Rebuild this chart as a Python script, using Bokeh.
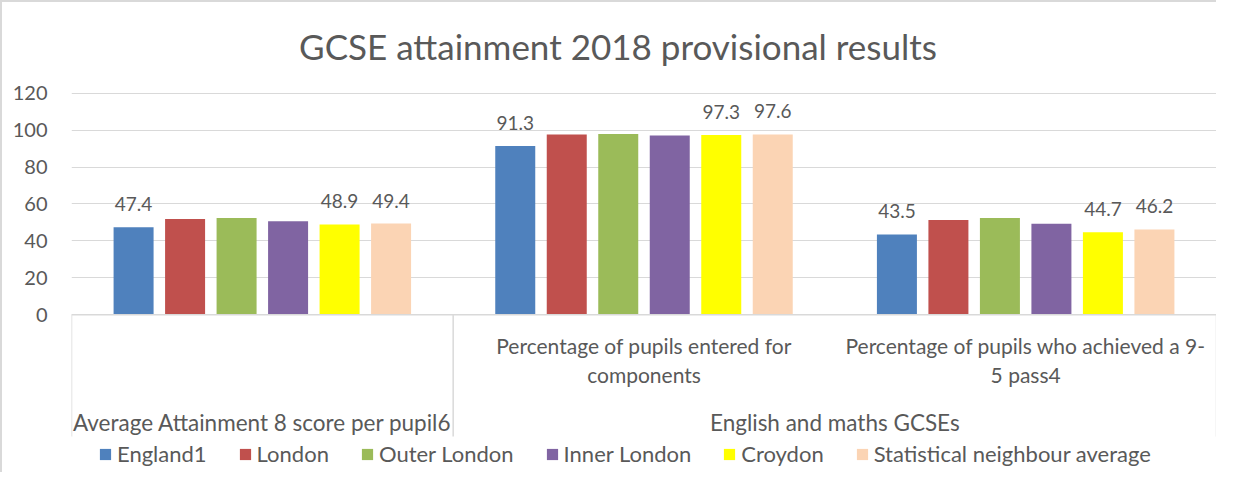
from bokeh.plotting import figure
from bokeh.models import Range1d, FixedTicker, Legend, LegendItem
from bokeh.core.properties import value
from bokeh.embed import file_html
from bokeh.resources import INLINE

# ---------------- data ----------------
title_text = "GCSE attainment 2018  provisional results"
sub_labels = ["", "Percentage of pupils entered for\ncomponents",
              "Percentage of pupils who achieved a 9-\n5 pass4"]
group_labels = ["Average Attainment 8 score per pupil6", "English and maths GCSEs"]
group_starts = [0, 1]
group_ends = [1, 3]
series = ["England1", "London", "Outer London", "Inner London", "Croydon",
          "Statistical neighbour average"]
england = [47.4, 91.3, 43.5]
london = [51.9, 97.6, 51.3]
outer_london = [52.4, 97.8, 52.4]
inner_london = [50.7, 97.1, 49.3]
croydon = [48.9, 97.3, 44.7]
stat_neighbour = [49.4, 97.6, 46.2]
values = [england, london, outer_london, inner_london, croydon, stat_neighbour]
show_labels = [True, False, False, False, True, True]
colors = ["#4F81BD", "#C0504D", "#9BBB59", "#8064A2", "#FFFF00", "#FBD4B4"]
y_ticks = [0, 20, 40, 60, 80, 100, 120]

# ---------------- layout ----------------
W, H = 1216, 472
LEFT, RIGHT = 69, 2
PX = 1.8475          # pixels per value unit
Y0 = 312.3           # canvas y of value 0
UX = (W - LEFT - RIGHT) / 3.0
FONT = value("Lato")
TXT = "#595959"
GRID = "#d9d9d9"


def v(cy):
    return (Y0 - cy) / PX


def u(cx):
    return (cx - LEFT) / UX


p = figure(width=W, height=H, x_range=Range1d(0, 3), y_range=Range1d(v(H), v(0)),
           output_backend="svg", toolbar_location=None, x_axis_location=None,
           min_border_left=LEFT, min_border_right=RIGHT, min_border_top=0, min_border_bottom=0)
p.styles = {"border-top": "2px solid #d9d9d9", "border-left": "2px solid #d9d9d9"}
p.outline_line_color = None
p.background_fill_color = "white"
p.border_fill_color = "white"

p.yaxis.ticker = FixedTicker(ticks=y_ticks)
p.yaxis.axis_line_color = None
p.yaxis.major_tick_line_color = None
p.yaxis.minor_tick_line_color = None
p.yaxis.major_tick_out = 0
p.yaxis.major_label_standoff = 24
p.yaxis.major_label_text_font = "Lato"
p.yaxis.major_label_text_font_size = "20px"
p.yaxis.major_label_text_color = TXT
p.ygrid.ticker = FixedTicker(ticks=y_ticks)
p.ygrid.grid_line_color = GRID
p.ygrid.grid_line_width = 1
p.xgrid.visible = False

n = len(series)
pitch = 51.5 / UX
bw = 40.0 / UX
items = []
for i in range(n):
    xs = [g + 0.5 + (i - (n - 1) / 2) * pitch for g in range(len(values[i]))]
    r = p.vbar(x=xs, top=values[i], bottom=0, width=bw, fill_color=colors[i], line_color=None)
    items.append(LegendItem(label=series[i], renderers=[r]))
    if show_labels[i]:
        p.text(x=xs, y=values[i], text=[f"{val:.1f}" for val in values[i]],
               text_font=FONT, text_font_size="19px", text_color=TXT,
               text_align="center", text_baseline="alphabetic", y_offset=-23)

# category axis line and separators
p.segment(x0=[0], y0=[0], x1=[3], y1=[0], line_color=GRID, line_width=1.5)
seps = sorted(set(group_starts + group_ends))
p.segment(x0=seps, y0=[0] * len(seps), x1=seps, y1=[v(434)] * len(seps),
          line_color=GRID, line_width=1.5)

# level-1 labels
lx, ly, lt = [], [], []
for g, lab in enumerate(sub_labels):
    for k, line in enumerate(lab.split("\n")):
        if line:
            lx.append(g + 0.5)
            ly.append(v(343 + 29 * k))
            lt.append(line)
p.text(x=lx, y=ly, text=lt, text_font=FONT, text_font_size="21px", text_color=TXT,
       text_align="center", text_baseline="middle")

# level-2 labels
p.text(x=[(a + b) / 2 for a, b in zip(group_starts, group_ends)],
       y=[v(420)] * len(group_labels), text=group_labels, text_font=FONT,
       text_font_size="22.5px", text_color=TXT, text_align="center", text_baseline="middle")

# title
p.text(x=[u(620)], y=[v(43)], text=[title_text], text_font=FONT,
       text_font_size="35px", text_color=TXT, text_align="center", text_baseline="middle")

legend = Legend(items=items, orientation="horizontal", location=(27, 7),
                glyph_width=14, glyph_height=14, label_standoff=5, spacing=31,
                padding=0, margin=0, border_line_color=None, background_fill_alpha=0,
                label_text_font="Lato", label_text_font_size="22px", label_text_color=TXT)
p.add_layout(legend)

open("out.html", "w").write(file_html(p, INLINE))
